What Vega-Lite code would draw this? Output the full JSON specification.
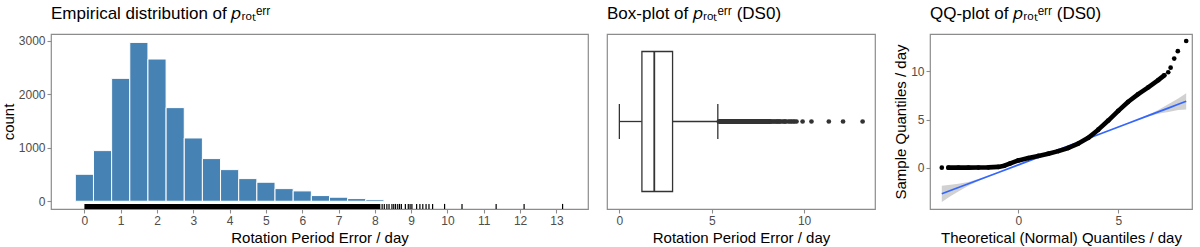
{
  "$schema": "https://vega.github.io/schema/vega-lite/v6.json",
  "padding": {"left": 0, "top": 4, "right": 0, "bottom": 0},
  "background": "white",
  "datasets": {
    "hist": [
      {"bin_start": -0.25, "bin_end": 0.25, "count": 504},
      {"bin_start": 0.25, "bin_end": 0.75, "count": 946},
      {"bin_start": 0.75, "bin_end": 1.25, "count": 2296},
      {"bin_start": 1.25, "bin_end": 1.75, "count": 2968},
      {"bin_start": 1.75, "bin_end": 2.25, "count": 2657},
      {"bin_start": 2.25, "bin_end": 2.75, "count": 1749},
      {"bin_start": 2.75, "bin_end": 3.25, "count": 1182},
      {"bin_start": 3.25, "bin_end": 3.75, "count": 797},
      {"bin_start": 3.75, "bin_end": 4.25, "count": 591},
      {"bin_start": 4.25, "bin_end": 4.75, "count": 423},
      {"bin_start": 4.75, "bin_end": 5.25, "count": 355},
      {"bin_start": 5.25, "bin_end": 5.75, "count": 236},
      {"bin_start": 5.75, "bin_end": 6.25, "count": 193},
      {"bin_start": 6.25, "bin_end": 6.75, "count": 106},
      {"bin_start": 6.75, "bin_end": 7.25, "count": 75},
      {"bin_start": 7.25, "bin_end": 7.75, "count": 50},
      {"bin_start": 7.75, "bin_end": 8.25, "count": 31}
    ],
    "rugdense": [{"from": 0.0, "to": 8.15}],
    "rug": [
      {"v": 8.2}, {"v": 8.26}, {"v": 8.33}, {"v": 8.39}, {"v": 8.47}, {"v": 8.52}, {"v": 8.57}, {"v": 8.63}, {"v": 8.68}, {"v": 8.73},
      {"v": 8.84}, {"v": 8.92}, {"v": 8.97}, {"v": 9.02}, {"v": 9.15}, {"v": 9.24}, {"v": 9.32}, {"v": 9.41}, {"v": 9.49}, {"v": 9.59},
      {"v": 9.92}, {"v": 10.4}, {"v": 11.34}, {"v": 12.11}, {"v": 13.17}
    ],
    "box": [{"lo": 0.0, "q1": 1.22, "med": 1.89, "q3": 2.88, "hi": 5.33, "out_from": 5.4, "out_to": 8.15}],
    "qq": [
      {"theo": -3.83, "sample": 0.0}, {"theo": -3.5, "sample": 0.0}, {"theo": -3.0, "sample": 0.0}, {"theo": -2.5, "sample": 0.0},
      {"theo": -2.0, "sample": 0.01}, {"theo": -1.5, "sample": 0.03}, {"theo": -1.0, "sample": 0.08}, {"theo": -0.7, "sample": 0.2},
      {"theo": -0.4, "sample": 0.45}, {"theo": 0.0, "sample": 0.75}, {"theo": 0.5, "sample": 1.0}, {"theo": 1.0, "sample": 1.22},
      {"theo": 1.5, "sample": 1.45}, {"theo": 2.0, "sample": 1.72}, {"theo": 2.5, "sample": 2.05}, {"theo": 3.0, "sample": 2.5},
      {"theo": 3.5, "sample": 3.1}, {"theo": 4.0, "sample": 3.95}, {"theo": 4.5, "sample": 4.9}, {"theo": 5.0, "sample": 5.9},
      {"theo": 5.5, "sample": 6.85}, {"theo": 6.0, "sample": 7.65}, {"theo": 6.5, "sample": 8.35}, {"theo": 7.0, "sample": 9.1},
      {"theo": 7.3, "sample": 9.6}, {"theo": 7.5, "sample": 9.92}, {"theo": 7.62, "sample": 10.4}, {"theo": 7.8, "sample": 11.34},
      {"theo": 7.98, "sample": 12.11}, {"theo": 8.4, "sample": 13.17}
    ],
    "fit": [
      {"x": -3.83, "fit": -2.72, "lo": -3.57, "hi": -1.87},
      {"x": -3.4, "fit": -2.38, "lo": -2.98, "hi": -1.78},
      {"x": -3.0, "fit": -2.07, "lo": -2.47, "hi": -1.67},
      {"x": -2.5, "fit": -1.68, "lo": -1.88, "hi": -1.48},
      {"x": -2.0, "fit": -1.28, "lo": -1.38, "hi": -1.18},
      {"x": -1.0, "fit": -0.5, "lo": -0.54, "hi": -0.46},
      {"x": 2.3, "fit": 2.1, "lo": 2.08, "hi": 2.12},
      {"x": 5.5, "fit": 4.62, "lo": 4.58, "hi": 4.66},
      {"x": 6.5, "fit": 5.41, "lo": 5.31, "hi": 5.51},
      {"x": 7.0, "fit": 5.8, "lo": 5.6, "hi": 6.0},
      {"x": 7.5, "fit": 6.19, "lo": 5.79, "hi": 6.59},
      {"x": 8.0, "fit": 6.59, "lo": 5.99, "hi": 7.19},
      {"x": 8.4, "fit": 6.9, "lo": 6.05, "hi": 7.75}
    ]
  },
  "config": {
    "font": "Liberation Sans",
    "view": {"stroke": "#8c8c8c", "strokeWidth": 1.2},
    "axis": {"domain": false, "grid": false, "tickColor": "#8c8c8c", "tickSize": 4, "tickWidth": 1.1,
             "labelColor": "#4d4d4d", "labelFontSize": 12, "labelPadding": 2,
             "titleFontSize": 15, "titleFontWeight": "normal", "titleColor": "#000000"},
    "title": {"fontSize": 17, "fontWeight": "normal", "anchor": "start", "frame": "group", "color": "#000000", "offset": 11},
    "concat": {"spacing": 17}
  },
  "hconcat": [
    {
      "width": 537, "height": 175,
      "title": "Empirical distribution of 𝑝ᵣₒₜᵉʳʳ",
      "layer": [
        {
          "data": {"name": "hist"},
          "mark": {"type": "rect", "color": "#4682B4", "stroke": "#ffffff", "strokeWidth": 1},
          "encoding": {
            "x": {"field": "bin_start", "type": "quantitative", "scale": {"domain": [-0.92, 13.87], "nice": false, "zero": false},
                  "axis": {"values": [0,1,2,3,4,5,6,7,8,9,10,11,12,13], "title": "Rotation Period Error / day", "titlePadding": 4}},
            "x2": {"field": "bin_end"},
            "y": {"field": "count", "type": "quantitative", "scale": {"domain": [-145, 3125], "nice": false, "zero": false},
                  "axis": {"values": [0, 1000, 2000, 3000], "format": "d", "title": "count", "labelPadding": 2, "titlePadding": 2}},
            "y2": {"datum": 0}
          }
        },
        {
          "data": {"name": "rugdense"},
          "mark": {"type": "rect", "color": "#000000"},
          "encoding": {
            "x": {"field": "from", "type": "quantitative"},
            "x2": {"field": "to"},
            "y": {"datum": -145, "type": "quantitative"},
            "y2": {"datum": -50}
          }
        },
        {
          "data": {"name": "rug"},
          "mark": {"type": "rule", "color": "#000000", "strokeWidth": 1.2},
          "encoding": {
            "x": {"field": "v", "type": "quantitative"},
            "y": {"datum": -145, "type": "quantitative"},
            "y2": {"datum": -50}
          }
        }
      ]
    },
    {
      "width": 268, "height": 175,
      "title": "Box-plot of 𝑝ᵣₒₜᵉʳʳ (DS0)",
      "layer": [
        {
          "data": {"name": "box"},
          "mark": {"type": "rule", "color": "#333333", "strokeWidth": 1.3},
          "encoding": {
            "x": {"field": "lo", "type": "quantitative", "scale": {"domain": [-0.67, 13.84], "nice": false, "zero": false},
                  "axis": {"values": [0, 5, 10], "title": "Rotation Period Error / day", "titlePadding": 4}},
            "x2": {"field": "q1"},
            "y": {"datum": 0.5, "type": "quantitative", "scale": {"domain": [0, 1], "nice": false}, "axis": null}
          }
        },
        {
          "data": {"name": "box"},
          "mark": {"type": "rule", "color": "#333333", "strokeWidth": 1.3},
          "encoding": {
            "x": {"field": "q3", "type": "quantitative"},
            "x2": {"field": "hi"},
            "y": {"datum": 0.5, "type": "quantitative", "axis": null}
          }
        },
        {
          "data": {"name": "box"},
          "mark": {"type": "rule", "color": "#333333", "strokeWidth": 1.3},
          "encoding": {
            "x": {"field": "lo", "type": "quantitative"},
            "y": {"datum": 0.4, "type": "quantitative", "axis": null},
            "y2": {"datum": 0.6}
          }
        },
        {
          "data": {"name": "box"},
          "mark": {"type": "rule", "color": "#333333", "strokeWidth": 1.3},
          "encoding": {
            "x": {"field": "hi", "type": "quantitative"},
            "y": {"datum": 0.4, "type": "quantitative", "axis": null},
            "y2": {"datum": 0.6}
          }
        },
        {
          "data": {"name": "box"},
          "mark": {"type": "rect", "fill": "#ffffff", "stroke": "#333333", "strokeWidth": 1.3},
          "encoding": {
            "x": {"field": "q1", "type": "quantitative"},
            "x2": {"field": "q3"},
            "y": {"datum": 0.1, "type": "quantitative", "axis": null},
            "y2": {"datum": 0.9}
          }
        },
        {
          "data": {"name": "box"},
          "mark": {"type": "rule", "color": "#333333", "strokeWidth": 1.8},
          "encoding": {
            "x": {"field": "med", "type": "quantitative"},
            "y": {"datum": 0.1, "type": "quantitative", "axis": null},
            "y2": {"datum": 0.9}
          }
        },
        {
          "data": {"name": "box"},
          "mark": {"type": "rule", "color": "#333333", "strokeWidth": 5, "strokeCap": "round"},
          "encoding": {
            "x": {"field": "out_from", "type": "quantitative"},
            "x2": {"field": "out_to"},
            "y": {"datum": 0.5, "type": "quantitative", "axis": null}
          }
        },
        {
          "data": {"name": "rug"},
          "mark": {"type": "circle", "color": "#333333", "opacity": 1, "size": 22},
          "encoding": {
            "x": {"field": "v", "type": "quantitative"},
            "y": {"datum": 0.5, "type": "quantitative", "axis": null}
          }
        }
      ]
    },
    {
      "width": 262, "height": 175,
      "title": "QQ-plot of 𝑝ᵣₒₜᵉʳʳ (DS0)",
      "layer": [
        {
          "data": {"name": "fit"},
          "mark": {"type": "area", "color": "#999999", "opacity": 0.45},
          "encoding": {
            "x": {"field": "x", "type": "quantitative", "scale": {"domain": [-4.42, 8.69], "nice": false, "zero": false},
                  "axis": {"values": [0, 5], "title": "Theoretical (Normal) Quantiles / day", "titlePadding": 4}},
            "y": {"field": "lo", "type": "quantitative", "scale": {"domain": [-4.3, 13.9], "nice": false, "zero": false},
                  "axis": {"values": [0, 5, 10], "title": "Sample Quantiles / day", "labelPadding": 2, "titlePadding": 2}},
            "y2": {"field": "hi"}
          }
        },
        {
          "data": {"name": "fit"},
          "mark": {"type": "line", "color": "#3366FF", "strokeWidth": 1.7},
          "encoding": {
            "x": {"field": "x", "type": "quantitative"},
            "y": {"field": "fit", "type": "quantitative"}
          }
        },
        {
          "data": {"name": "qq"},
          "transform": [{"filter": "datum.theo >= -3.6 && datum.theo <= 7.35"}],
          "mark": {"type": "line", "color": "#000000", "strokeWidth": 4.6, "strokeCap": "round", "strokeJoin": "round"},
          "encoding": {
            "x": {"field": "theo", "type": "quantitative"},
            "y": {"field": "sample", "type": "quantitative"}
          }
        },
        {
          "data": {"name": "qq"},
          "mark": {"type": "circle", "color": "#000000", "opacity": 1, "size": 22},
          "encoding": {
            "x": {"field": "theo", "type": "quantitative"},
            "y": {"field": "sample", "type": "quantitative"}
          }
        }
      ]
    }
  ]
}
